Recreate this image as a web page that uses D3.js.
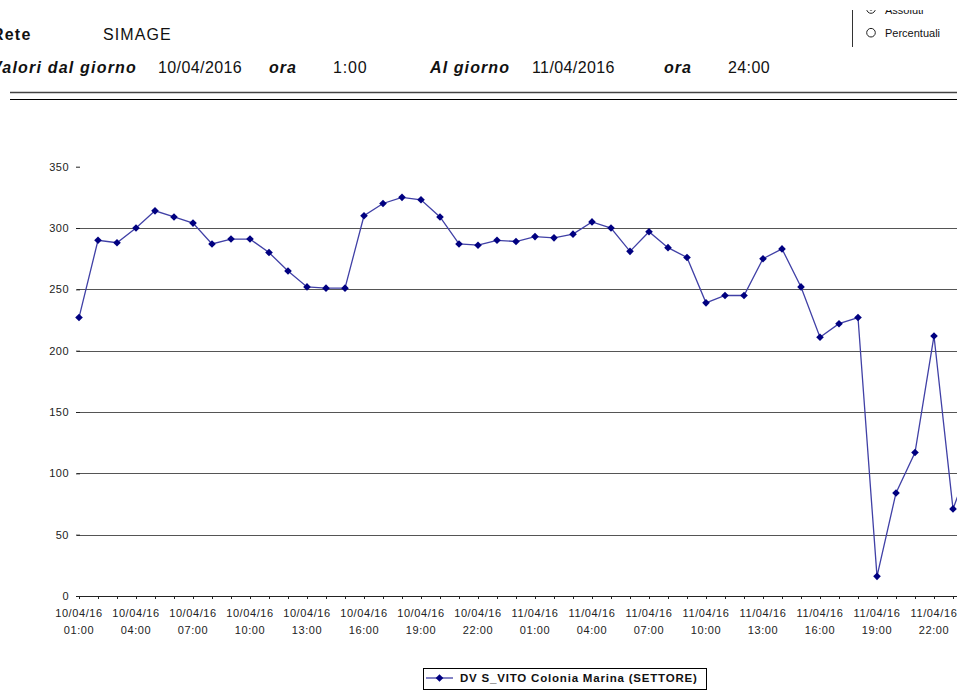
<!DOCTYPE html>
<html><head><meta charset="utf-8">
<script src="https://cdn.jsdelivr.net/npm/d3@7"></script>
<style>
body{margin:0;background:#fff;overflow:hidden}
text{font-family:"Liberation Sans",Arial,sans-serif}
</style>
</head><body><svg id="c" width="957" height="690"></svg>
<script>
// ---- data ----
const days = ["10/04/16", "11/04/16"];
const hours = ["01:00","02:00","03:00","04:00","05:00","06:00","07:00","08:00","09:00","10:00","11:00","12:00",
               "13:00","14:00","15:00","16:00","17:00","18:00","19:00","20:00","21:00","22:00","23:00","24:00"];
const values = [227, 290, 288, 300, 314, 309, 304, 287, 291, 291, 280, 265,
                252, 251, 251, 310, 320, 325, 323, 309, 287, 286, 290, 289,
                293, 292, 295, 305, 300, 281, 297, 284, 276, 239, 245, 245,
                275, 283, 252, 211, 222, 227, 16, 84, 117, 212, 71, 113];
const yTicks = [0, 50, 100, 150, 200, 250, 300, 350];
const seriesName = "DV S_VITO Colonia Marina (SETTORE)";
const headerRete = "SIMAGE";
const fromDate = "10/04/2016", fromHour = "1:00", toDate = "11/04/2016", toHour = "24:00";
const radioOptions = ["Assoluti", "Percentuali"];

const categories = days.flatMap(d => hours.map(h => d + " " + h));
const data = categories.map((c, i) => ({cat: c, value: values[i]}));

const svg = d3.select("#c");

// ---- header ----
const hdr = svg.append("g");
function t(x, y, s, opts = {}) {
  return hdr.append("text").attr("x", x).attr("y", y).text(s)
    .attr("font-size", opts.size || 16)
    .attr("font-weight", opts.bold ? "bold" : "normal")
    .attr("font-style", opts.italic ? "italic" : "normal")
    .attr("letter-spacing", opts.ls || 0)
    .attr("fill", "#111");
}
t(-8, 39.5, "Rete", {bold: true, ls: 1.2});
t(103, 39.5, headerRete, {ls: 1.1});
t(-9, 73, "Valori dal giorno", {bold: true, italic: true, ls: 1.2});
t(158, 73, fromDate, {ls: 0.4});
t(269, 73, "ora", {bold: true, italic: true, ls: 1});
t(333, 73, fromHour, {ls: 0.8});
t(430, 73, "Al giorno", {bold: true, italic: true, ls: 1.1});
t(532, 73, toDate, {ls: 0.4});
t(664, 73, "ora", {bold: true, italic: true, ls: 1});
t(728, 73, toHour, {ls: 0.4});

hdr.append("line").attr("x1", 10).attr("x2", 957).attr("y1", 92.5).attr("y2", 92.5)
  .attr("stroke", "#444").attr("stroke-width", 1.5);
hdr.append("line").attr("x1", 10).attr("x2", 957).attr("y1", 99.5).attr("y2", 99.5)
  .attr("stroke", "#000").attr("stroke-width", 1);

// top-right radio box
svg.append("defs").append("clipPath").attr("id", "rclip")
  .append("rect").attr("x", 840).attr("y", 10).attr("width", 117).attr("height", 60);
const rg = svg.append("g").attr("clip-path", "url(#rclip)");
rg.append("line").attr("x1", 852.5).attr("x2", 852.5).attr("y1", 10).attr("y2", 47)
  .attr("stroke", "#333").attr("stroke-width", 1);
radioOptions.forEach((o, i) => {
  const cy = 9 + i * 23.7;
  rg.append("circle").attr("cx", 871).attr("cy", cy).attr("r", 4.3)
    .attr("fill", "#fff").attr("stroke", "#222").attr("stroke-width", 1);
  if (i === 0) rg.append("circle").attr("cx", 871).attr("cy", cy).attr("r", 1.6).attr("fill", "#111");
  rg.append("text").attr("x", 885).attr("y", cy + 4.6).text(o)
    .attr("font-size", 11).attr("fill", "#111");
});

// ---- chart ----
const x = d3.scalePoint().domain(categories).range([79, 79 + 19 * (categories.length - 1)]);
const y = d3.scaleLinear().domain([0, 350]).range([596, 166.7]);

// gridlines
svg.append("g").selectAll("line").data(yTicks.filter(v => v > 0 && v < 350)).join("line")
  .attr("x1", 77).attr("x2", 957)
  .attr("y1", d => Math.round(y(d)) + 0.5).attr("y2", d => Math.round(y(d)) + 0.5)
  .attr("stroke", "#555").attr("stroke-width", 1.2);

// y axis (ticks + labels, no domain line)
const yAxis = svg.append("g").attr("transform", "translate(80,0)")
  .call(d3.axisLeft(y).tickValues(yTicks).tickSize(4).tickPadding(7));
yAxis.select(".domain").remove();
yAxis.selectAll("line").attr("stroke", "#222");
yAxis.selectAll("text").attr("font-size", 11).attr("fill", "#222")
  .attr("font-family", "Liberation Sans, Arial, sans-serif").attr("letter-spacing", 0.5);

// x axis
const xAxis = svg.append("g").attr("transform", "translate(0,596)")
  .call(d3.axisBottom(x).tickSize(3).tickFormat(""));
xAxis.select(".domain").attr("d", "M77,0.5H957").attr("stroke", "#222");
xAxis.selectAll(".tick line").attr("stroke", "#222");

const labelCats = categories.filter((c, i) => i % 3 === 0);
const xl = svg.append("g").selectAll("text").data(labelCats).join("text")
  .attr("text-anchor", "middle").attr("font-size", 11).attr("fill", "#222")
  .attr("letter-spacing", 0.6);
xl.append("tspan").attr("x", d => x(d)).attr("y", 617).text(d => d.split(" ")[0]);
xl.append("tspan").attr("x", d => x(d)).attr("y", 634).text(d => d.split(" ")[1]);

// series line
const line = d3.line().x(d => x(d.cat)).y(d => y(d.value));
svg.append("path").datum(data).attr("d", line)
  .attr("fill", "none").attr("stroke", "#4040a6").attr("stroke-width", 1.3);

const diamond = "M0,-3.8L3.8,0L0,3.8L-3.8,0Z";
svg.append("g").selectAll("path").data(data).join("path")
  .attr("d", diamond)
  .attr("transform", d => `translate(${x(d.cat)},${y(d.value)})`)
  .attr("fill", "#000080");

// ---- legend ----
const lg = svg.append("g");
lg.append("rect").attr("x", 423.5).attr("y", 668.5).attr("width", 283).attr("height", 21)
  .attr("fill", "none").attr("stroke", "#000").attr("stroke-width", 1);
lg.append("line").attr("x1", 426).attr("x2", 453).attr("y1", 678).attr("y2", 678)
  .attr("stroke", "#4040a6").attr("stroke-width", 1.3);
lg.append("path").attr("d", diamond).attr("transform", "translate(439.5,678)").attr("fill", "#000080");
lg.append("text").attr("x", 460).attr("y", 682).text(seriesName)
  .attr("font-size", 11.5).attr("font-weight", "bold").attr("fill", "#111").attr("letter-spacing", 0.8);
</script>
</body></html>
